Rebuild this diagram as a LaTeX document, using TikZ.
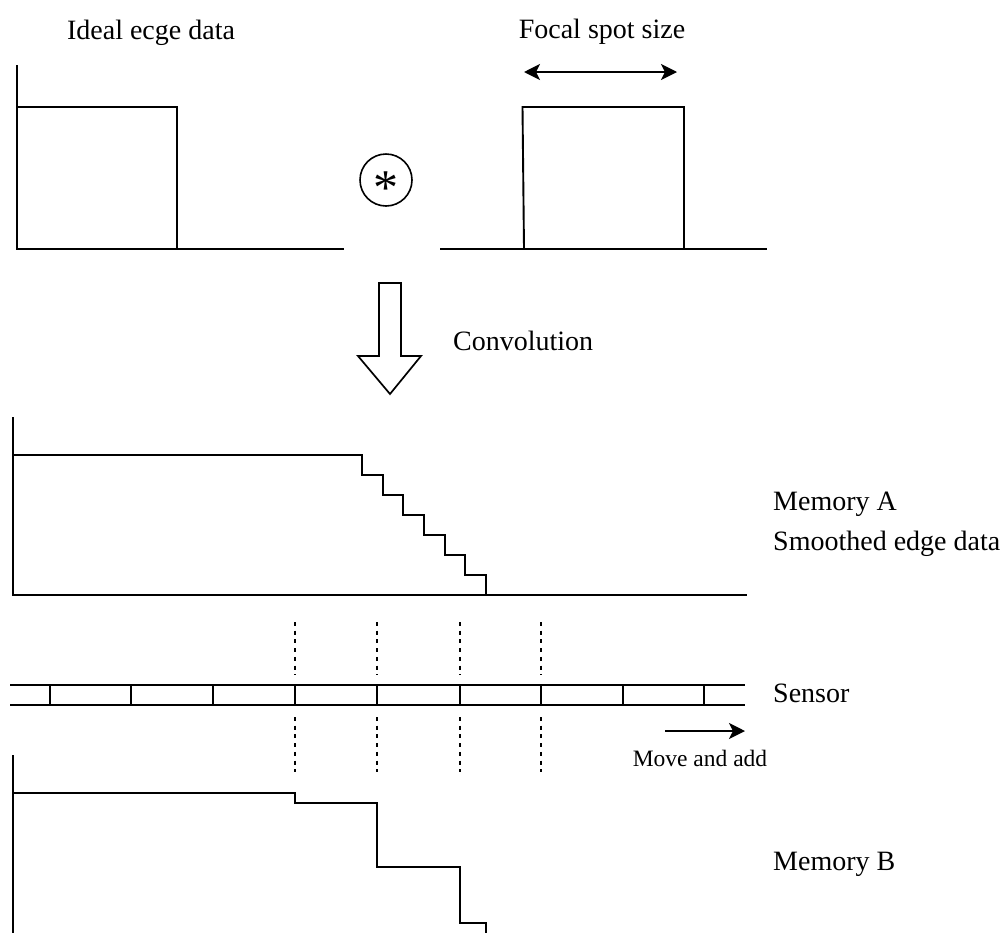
\documentclass[tikz,border=0pt]{standalone}
\usepackage{fontspec}
\setmainfont{Liberation Serif}
\usetikzlibrary{arrows.meta,positioning}

\begin{document}
\begin{tikzpicture}[
    x=1pt, y=-1pt,
    curve/.style={line width=1.9pt, line join=miter},
    cell/.style={line width=1.8pt},
    guide/.style={line width=1.6pt, dash pattern=on 4pt off 4.7pt},
    lbl/.style={font=\fontsize{28}{32}\selectfont, inner sep=0pt},
    small/.style={font=\fontsize{23.5}{28}\selectfont, inner sep=0pt},
    arr/.style={-{Stealth[length=16pt,width=16pt,inset=4pt]}, line width=1.9pt},
    darr/.style={{Stealth[length=16pt,width=16pt,inset=4pt]}-{Stealth[length=16pt,width=16pt,inset=4pt]}, line width=1.9pt},
    bigarrow/.style={draw, line width=1.7pt, fill=white, line join=miter}
]
\useasboundingbox (0,0) rectangle (1008,932);

\node[lbl, anchor=base] (ideal) at (151,39) {Ideal ecge data};
\node[lbl, anchor=base] (focal) at (602,38) {Focal spot size};
\node[lbl, anchor=base west] (conv) at (453,350) {Convolution};
\node[lbl, anchor=base west] (memA) at (773,510) {Memory A};
\node[lbl, anchor=base west] (smooth) at (773,550) {Smoothed edge data};
\node[lbl, anchor=base west] (sensor) at (773,702) {Sensor};
\node[small, anchor=base] (move) at (700,766) {Move and add};
\node[lbl, anchor=base west] (memB) at (773,870) {Memory B};

\node[draw, circle, line width=1.6pt, minimum size=52pt, inner sep=0pt] (op) at (386,180)
    {\fontsize{50}{50}\selectfont\raisebox{-0.49em}[0pt][0pt]{*}};

\draw[curve] (17,65) -- (17,249) -- (344,249);
\draw[curve] (17,107) -- (177,107) -- (177,249);

\draw[curve] (440,249) -- (767,249);
\draw[curve] (524,249) -- (522.5,107) -- (684,107) -- (684,249);
\coordinate (fsl) at (524,72);
\coordinate (fsr) at (677,72);
\draw[darr] (fsl) -- (fsr);

\draw[bigarrow] (379,283) -- (401,283) -- (401,356) -- (421,356) -- (390,394)
    -- (358,356) -- (379,356) -- cycle;

\draw[curve] (13,417) -- (13,595) -- (747,595);
\draw[curve] (13,455) -- (362,455)
    \foreach \k in {1,...,6} { -- ++(0,20) -- ++(20.67,0) } -- ++(0,20);

\draw[cell] (10,685) -- (745,685);
\draw[cell] (10,705) -- (745,705);
\foreach \x in {50,131,213,295,377,460,541,623,704}
    \draw[cell] (\x,685) -- (\x,705);
\foreach \x in {295,377,460,541} {
    \draw[guide] (\x,622) -- (\x,675);
    \draw[guide] (\x,717) -- (\x,772);
}
\coordinate (mvt) at (665,731);
\coordinate (mvh) at (745,731);
\draw[arr] (mvt) -- (mvh);

\draw[curve] (13,755) -- (13,940);
\draw[curve] (13,793) -- (295,793) -- (295,803) -- (377,803) -- (377,867)
    -- (460,867) -- (460,923) -- (486,923) -- (486,940);
\end{tikzpicture}
\end{document}
